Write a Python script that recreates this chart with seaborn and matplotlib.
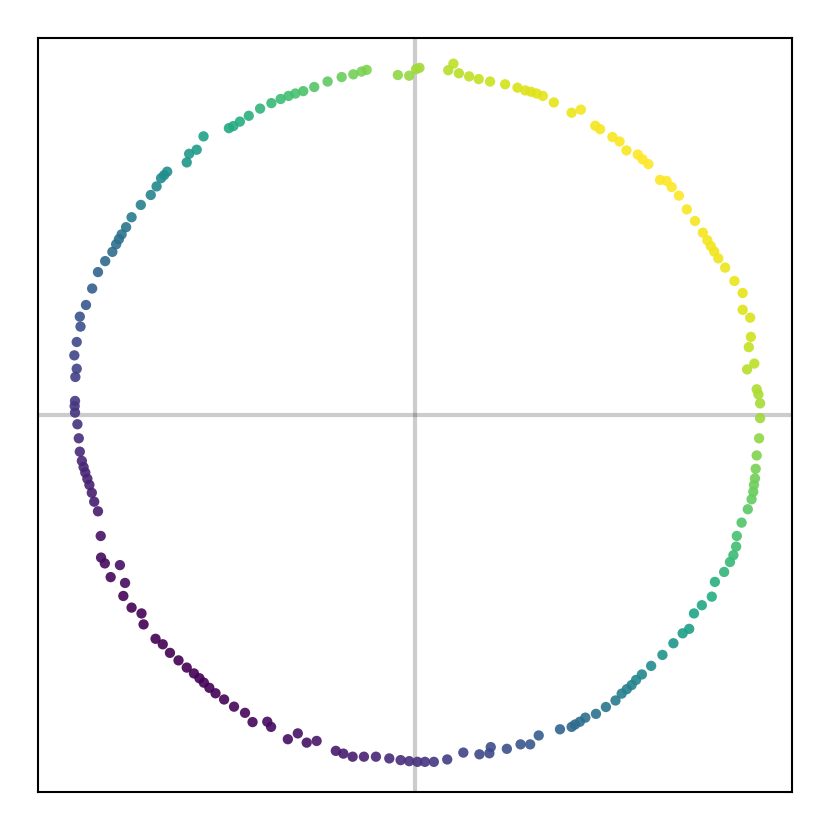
import matplotlib
matplotlib.use("Agg")
import matplotlib.pyplot as plt
import seaborn as sns
import pandas as pd

# Points (data units, unit circle with noise)
x_top_left = [0.013, 0.003, -0.017, -0.050, -0.141, -0.156, -0.180, -0.214, -0.255, -0.294,
              -0.326, -0.349, -0.369, -0.392, -0.419, -0.452, -0.485, -0.511, -0.530, -0.543,
              -0.617, -0.637, -0.659, -0.666, -0.723, -0.732, -0.741, -0.754, -0.771, -0.800,
              -0.827, -0.843, -0.856, -0.864, -0.872, -0.883, -0.904, -0.925, -0.942, -0.960,
              -0.978, -0.976, -0.987, -0.994, -0.987, -0.991, -0.992, -0.993, -0.992]
y_top_left = [1.013, 1.009, 0.990, 0.992, 1.007, 1.002, 0.994, 0.986, 0.973, 0.957,
              0.945, 0.938, 0.931, 0.922, 0.910, 0.894, 0.873, 0.856, 0.843, 0.837,
              0.813, 0.774, 0.762, 0.737, 0.710, 0.700, 0.691, 0.667, 0.642, 0.613,
              0.577, 0.548, 0.527, 0.513, 0.498, 0.476, 0.449, 0.417, 0.369, 0.321,
              0.287, 0.258, 0.213, 0.174, 0.135, 0.111, 0.041, 0.026, 0.007]

x_bottom_left = [-0.985, -0.981, -0.978, -0.972, -0.967, -0.962, -0.956, -0.950, -0.943, -0.936,
                 -0.925, -0.917, -0.916, -0.905, -0.861, -0.888, -0.846, -0.851, -0.827, -0.798,
                 -0.792, -0.757, -0.736, -0.715, -0.690, -0.666, -0.645, -0.629, -0.616, -0.600,
                 -0.582, -0.557, -0.528, -0.496, -0.474, -0.431, -0.420, -0.371, -0.342, -0.316,
                 -0.287, -0.231, -0.209, -0.182, -0.149, -0.114, -0.075, -0.042, -0.017, 0.007,
                 0.029]
y_bottom_left = [-0.027, -0.068, -0.107, -0.134, -0.152, -0.168, -0.186, -0.204, -0.227, -0.253,
                 -0.281, -0.353, -0.416, -0.433, -0.438, -0.473, -0.490, -0.528, -0.562, -0.579,
                 -0.611, -0.653, -0.669, -0.694, -0.716, -0.737, -0.754, -0.768, -0.781, -0.796,
                 -0.812, -0.830, -0.851, -0.869, -0.896, -0.895, -0.910, -0.946, -0.929, -0.956,
                 -0.951, -0.980, -0.988, -0.997, -0.997, -0.997, -1.002, -1.007, -1.010, -1.012,
                 -1.012]

x_bottom_right = [0.055, 0.094, 0.141, 0.188, 0.217, 0.221, 0.268, 0.308, 0.336, 0.361,
                  0.423, 0.457, 0.467, 0.481, 0.497, 0.528, 0.557, 0.585, 0.603, 0.618,
                  0.632, 0.645, 0.662, 0.689, 0.722, 0.754, 0.781, 0.800, 0.814, 0.837,
                  0.866, 0.875, 0.902, 0.919, 0.929, 0.937, 0.939, 0.953, 0.971, 0.982,
                  0.987, 0.989, 0.992, 0.994, 0.997, 1.004, 1.007]
y_bottom_right = [-1.012, -1.005, -0.985, -0.990, -0.987, -0.969, -0.974, -0.961, -0.961, -0.935,
                  -0.917, -0.910, -0.903, -0.895, -0.883, -0.872, -0.852, -0.833, -0.813, -0.800,
                  -0.788, -0.773, -0.757, -0.732, -0.700, -0.666, -0.637, -0.624, -0.579, -0.555,
                  -0.530, -0.487, -0.458, -0.429, -0.409, -0.384, -0.353, -0.314, -0.275, -0.246,
                  -0.224, -0.204, -0.185, -0.157, -0.118, -0.068, -0.009]

x_top_right = [1.007, 1.002, 0.997, 0.969, 0.990, 0.974, 0.980, 0.978, 0.956, 0.956,
               0.932, 0.905, 0.885, 0.873, 0.863, 0.853, 0.840, 0.817, 0.793, 0.770,
               0.749, 0.734, 0.715, 0.681, 0.664, 0.650, 0.617, 0.597, 0.576, 0.540,
               0.526, 0.484, 0.457, 0.405, 0.373, 0.355, 0.339, 0.322, 0.299, 0.263,
               0.219, 0.186, 0.158, 0.128, 0.097, 0.112]
y_top_right = [0.034, 0.060, 0.075, 0.133, 0.150, 0.198, 0.228, 0.284, 0.307, 0.356,
               0.391, 0.430, 0.457, 0.477, 0.493, 0.510, 0.532, 0.566, 0.600, 0.640,
               0.665, 0.683, 0.686, 0.732, 0.746, 0.760, 0.772, 0.798, 0.811, 0.834,
               0.844, 0.891, 0.882, 0.912, 0.931, 0.938, 0.943, 0.947, 0.955, 0.965,
               0.973, 0.980, 0.988, 0.997, 1.006, 1.025]

xs = x_top_left + x_bottom_left + x_bottom_right + x_top_right
ys = y_top_left + y_bottom_left + y_bottom_right + y_top_right
df = pd.DataFrame({"x": xs, "y": ys})
df["c"] = df["x"] + df["y"]

fig = plt.figure(figsize=(8.3, 8.3), dpi=100)
ax = fig.add_axes([38 / 830, 38 / 830, 754 / 830, 754 / 830])

ax.axhline(0, color="k", alpha=0.2, linewidth=3, zorder=0)
ax.axvline(0, color="k", alpha=0.2, linewidth=3, zorder=0)

sns.scatterplot(data=df, x="x", y="y", hue="c", palette="viridis", s=55,
                linewidth=0, alpha=0.9, legend=False, ax=ax)

ax.set_xlim(-1.1, 1.1)
ax.set_ylim(-1.1, 1.1)
ax.set_xticks([])
ax.set_yticks([])
ax.set_xlabel("")
ax.set_ylabel("")
for sp in ax.spines.values():
    sp.set_linewidth(1.5)
    sp.set_color("black")

fig.savefig("out.png", dpi=100, facecolor="white")
